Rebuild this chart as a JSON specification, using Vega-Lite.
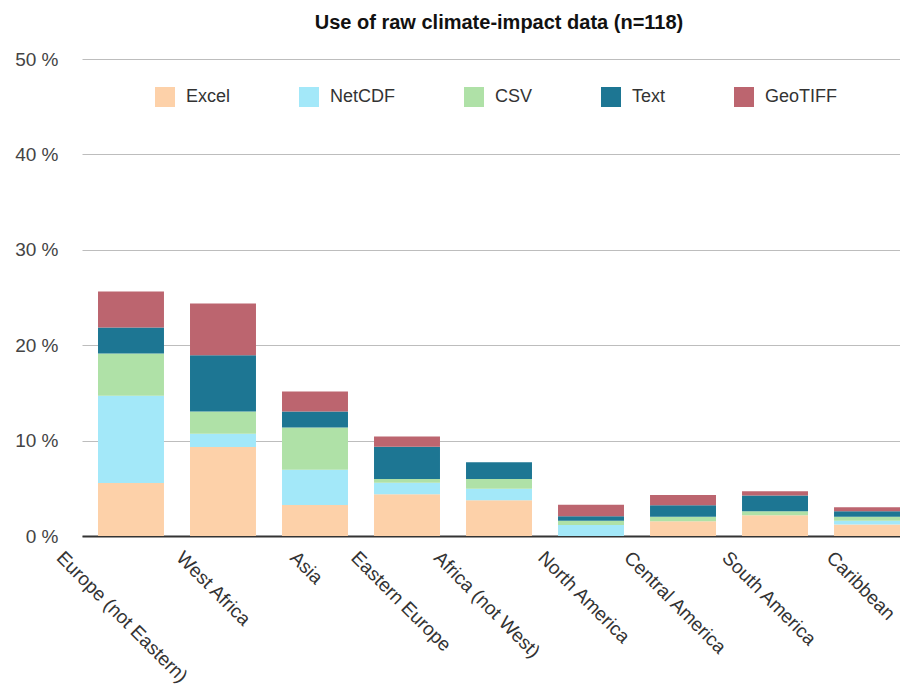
{
  "$schema": "https://vega.github.io/schema/vega-lite/v6.json",
  "autosize": "none",
  "width": 818,
  "height": 477,
  "padding": {"left": 82, "top": 59, "right": 0, "bottom": 153},
  "background": "white",
  "config": {
    "view": {"stroke": null},
    "font": "Liberation Sans"
  },
  "title": {
    "text": "Use of raw climate-impact data (n=118)",
    "font": "Liberation Sans",
    "fontSize": 20,
    "fontWeight": "bold",
    "color": "#111111",
    "anchor": "middle",
    "dx": 8,
    "offset": 17
  },
  "data": {
    "values": [
      {"region": "Europe (not Eastern)", "format": "Excel", "pct": 5.55},
      {"region": "Europe (not Eastern)", "format": "NetCDF", "pct": 9.14},
      {"region": "Europe (not Eastern)", "format": "CSV", "pct": 4.44},
      {"region": "Europe (not Eastern)", "format": "Text", "pct": 2.72},
      {"region": "Europe (not Eastern)", "format": "GeoTIFF", "pct": 3.77},
      {"region": "West Africa", "format": "Excel", "pct": 9.32},
      {"region": "West Africa", "format": "NetCDF", "pct": 1.39},
      {"region": "West Africa", "format": "CSV", "pct": 2.35},
      {"region": "West Africa", "format": "Text", "pct": 5.89},
      {"region": "West Africa", "format": "GeoTIFF", "pct": 5.42},
      {"region": "Asia", "format": "Excel", "pct": 3.25},
      {"region": "Asia", "format": "NetCDF", "pct": 3.69},
      {"region": "Asia", "format": "CSV", "pct": 4.44},
      {"region": "Asia", "format": "Text", "pct": 1.68},
      {"region": "Asia", "format": "GeoTIFF", "pct": 2.09},
      {"region": "Eastern Europe", "format": "Excel", "pct": 4.37},
      {"region": "Eastern Europe", "format": "NetCDF", "pct": 1.21},
      {"region": "Eastern Europe", "format": "CSV", "pct": 0.39},
      {"region": "Eastern Europe", "format": "Text", "pct": 3.38},
      {"region": "Eastern Europe", "format": "GeoTIFF", "pct": 1.09},
      {"region": "Africa (not West)", "format": "Excel", "pct": 3.74},
      {"region": "Africa (not West)", "format": "NetCDF", "pct": 1.21},
      {"region": "Africa (not West)", "format": "CSV", "pct": 1.02},
      {"region": "Africa (not West)", "format": "Text", "pct": 1.75},
      {"region": "Africa (not West)", "format": "GeoTIFF", "pct": 0},
      {"region": "North America", "format": "Excel", "pct": 0},
      {"region": "North America", "format": "NetCDF", "pct": 1.15},
      {"region": "North America", "format": "CSV", "pct": 0.45},
      {"region": "North America", "format": "Text", "pct": 0.46},
      {"region": "North America", "format": "GeoTIFF", "pct": 1.22},
      {"region": "Central America", "format": "Excel", "pct": 1.55},
      {"region": "Central America", "format": "NetCDF", "pct": 0},
      {"region": "Central America", "format": "CSV", "pct": 0.46},
      {"region": "Central America", "format": "Text", "pct": 1.22},
      {"region": "Central America", "format": "GeoTIFF", "pct": 1.08},
      {"region": "South America", "format": "Excel", "pct": 2.18},
      {"region": "South America", "format": "NetCDF", "pct": 0},
      {"region": "South America", "format": "CSV", "pct": 0.42},
      {"region": "South America", "format": "Text", "pct": 1.64},
      {"region": "South America", "format": "GeoTIFF", "pct": 0.45},
      {"region": "Caribbean", "format": "Excel", "pct": 1.2},
      {"region": "Caribbean", "format": "NetCDF", "pct": 0.39},
      {"region": "Caribbean", "format": "CSV", "pct": 0.42},
      {"region": "Caribbean", "format": "Text", "pct": 0.59},
      {"region": "Caribbean", "format": "GeoTIFF", "pct": 0.42}
    ]
  },
  "transform": [
    {"calculate": "indexof(['Excel','NetCDF','CSV','Text','GeoTIFF'], datum.format)", "as": "stackOrder"}
  ],
  "mark": {"type": "bar"},
  "encoding": {
    "x": {
      "field": "region",
      "type": "nominal",
      "sort": null,
      "scale": {"paddingInner": 0.283, "paddingOuter": 0.087, "align": 1},
      "axis": {
        "title": null,
        "ticks": false,
        "domainColor": "#333333",
        "domainWidth": 2,
        "labelAngle": 45,
        "labelAlign": "left",
        "labelBaseline": "top",
        "labelPadding": 12,
        "labelOffset": {"expr": "-3.1*length(datum.label) - 3"},
        "labelFont": "Liberation Sans",
        "labelFontSize": 19,
        "labelColor": "#333333",
        "labelLimit": 400
      }
    },
    "y": {
      "field": "pct",
      "type": "quantitative",
      "stack": "zero",
      "scale": {"domain": [0, 50], "nice": false},
      "axis": {
        "title": null,
        "values": [0, 10, 20, 30, 40, 50],
        "labelExpr": "datum.value + ' %'",
        "domain": false,
        "ticks": false,
        "labelPadding": 24,
        "labelFont": "Liberation Sans",
        "labelFontSize": 19,
        "labelColor": "#444444",
        "gridColor": "#bdbdbd",
        "gridWidth": 1.2
      }
    },
    "color": {
      "field": "format",
      "type": "nominal",
      "sort": ["Excel", "NetCDF", "CSV", "Text", "GeoTIFF"],
      "scale": {
        "domain": ["Excel", "NetCDF", "CSV", "Text", "GeoTIFF"],
        "range": ["#FDD1A9", "#A3E8F9", "#AFE1A7", "#1D7693", "#BC656F"]
      },
      "legend": {
        "title": null,
        "orient": "none",
        "direction": "horizontal",
        "legendX": 73,
        "legendY": 28,
        "padding": 0,
        "symbolType": "square",
        "symbolSize": 400,
        "symbolStrokeWidth": 0,
        "symbolOpacity": 1,
        "labelOffset": 11,
        "columnPadding": 68,
        "labelFont": "Liberation Sans",
        "labelFontSize": 18,
        "labelColor": "#333333"
      }
    },
    "order": {"field": "stackOrder", "type": "quantitative", "sort": "ascending"}
  }
}
